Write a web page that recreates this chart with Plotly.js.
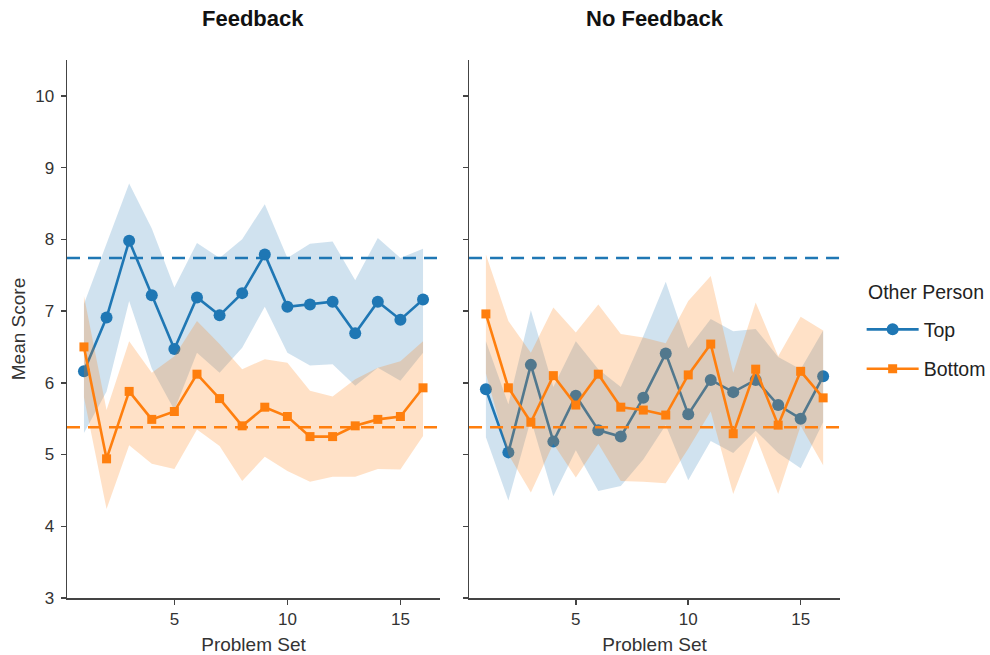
<!DOCTYPE html>
<html>
<head>
<meta charset="utf-8">
<script src="https://cdn.plot.ly/plotly-3.0.1.min.js"></script>
<style>
  html, body { margin: 0; padding: 0; background: #ffffff; }
  #chart { width: 990px; height: 655px; }
</style>
</head>
<body>
<div id="chart"></div>
<script>
// Problem sets on the x axis
const problemSet = [1, 2, 3, 4, 5, 6, 7, 8, 9, 10, 11, 12, 13, 14, 15, 16];

// Feedback condition: mean score and confidence band per problem set
const fbTopMean   = [6.16, 6.91, 7.98, 7.22, 6.47, 7.19, 6.94, 7.25, 7.79, 7.06, 7.09, 7.13, 6.69, 7.13, 6.88, 7.16];
const fbTopUpper  = [7.10, 7.94, 8.78, 8.15, 7.33, 7.95, 7.74, 8.00, 8.49, 7.74, 7.94, 7.97, 7.43, 8.02, 7.74, 7.87];
const fbTopLower  = [5.30, 5.88, 7.14, 6.20, 5.62, 6.42, 6.14, 6.49, 7.06, 6.42, 6.24, 6.26, 5.96, 6.21, 6.03, 6.42];
const fbBotMean   = [6.50, 4.94, 5.88, 5.49, 5.60, 6.12, 5.78, 5.40, 5.66, 5.53, 5.25, 5.25, 5.40, 5.49, 5.53, 5.93];
const fbBotUpper  = [7.21, 5.62, 6.58, 6.14, 6.37, 6.86, 6.54, 6.19, 6.33, 6.28, 5.89, 5.81, 6.05, 6.21, 6.30, 6.58];
const fbBotLower  = [5.80, 4.24, 5.13, 4.87, 4.80, 5.35, 5.12, 4.63, 4.97, 4.77, 4.62, 4.69, 4.69, 4.80, 4.79, 5.26];

// No Feedback condition
const nfTopMean   = [5.91, 5.03, 6.25, 5.18, 5.82, 5.34, 5.25, 5.79, 6.41, 5.56, 6.04, 5.87, 6.04, 5.69, 5.50, 6.09];
const nfTopUpper  = [6.58, 5.70, 7.01, 5.94, 6.58, 6.19, 5.94, 6.65, 7.41, 6.48, 6.89, 6.72, 6.75, 6.36, 6.19, 6.73];
const nfTopLower  = [5.24, 4.36, 5.49, 4.42, 5.06, 4.49, 4.56, 4.93, 5.41, 4.64, 5.19, 5.02, 5.33, 5.02, 4.81, 5.45];
const nfBotMean   = [6.96, 5.93, 5.45, 6.10, 5.69, 6.12, 5.66, 5.62, 5.55, 6.11, 6.54, 5.29, 6.19, 5.41, 6.16, 5.79];
const nfBotUpper  = [7.79, 6.86, 6.42, 7.05, 6.70, 7.09, 6.68, 6.63, 6.55, 7.14, 7.49, 6.14, 7.12, 6.37, 6.92, 6.73];
const nfBotLower  = [6.13, 5.00, 4.47, 5.15, 4.68, 5.15, 4.63, 4.62, 4.60, 5.08, 5.60, 4.45, 5.26, 4.45, 5.40, 4.85];

// Reference levels (dashed lines)
const refTop = 7.74;
const refBottom = 5.38;

// Axis ticks and text
const yTicks = [3, 4, 5, 6, 7, 8, 9, 10];
const xTicks = [5, 10, 15];
const panelTitles = ['Feedback', 'No Feedback'];
const seriesNames = ['Top', 'Bottom'];
const legendTitle = 'Other Person';

const BLUE = '#1f77b4';
const ORANGE = '#ff7f0e';
const BLUE_FILL = 'rgba(31,119,180,0.21)';
const ORANGE_FILL = 'rgba(255,127,14,0.23)';
const FONT = 'Liberation Sans, Arial, Helvetica, sans-serif';

function band(upper, lower, color, xa, ya) {
  return {
    x: problemSet.concat(problemSet.slice().reverse()),
    y: upper.concat(lower.slice().reverse()),
    xaxis: xa, yaxis: ya,
    mode: 'lines', fill: 'toself', fillcolor: color,
    line: { width: 0 }, hoverinfo: 'skip', showlegend: false
  };
}

function meanLine(values, color, symbol, size, name, group, xa, ya, legend) {
  return {
    x: problemSet, y: values,
    xaxis: xa, yaxis: ya,
    mode: 'lines+markers', name: name, legendgroup: group,
    showlegend: legend,
    line: { color: color, width: 2.6 },
    marker: { color: color, symbol: symbol, size: size, line: { width: 0 } },
    hoverinfo: 'skip'
  };
}

const traces = [
  band(fbTopUpper, fbTopLower, BLUE_FILL, 'x', 'y'),
  meanLine(fbTopMean, BLUE, 'circle', 12, seriesNames[0], 'top', 'x', 'y', true),
  band(fbBotUpper, fbBotLower, ORANGE_FILL, 'x', 'y'),
  meanLine(fbBotMean, ORANGE, 'square', 9, seriesNames[1], 'bottom', 'x', 'y', true),

  band(nfTopUpper, nfTopLower, BLUE_FILL, 'x2', 'y2'),
  meanLine(nfTopMean, BLUE, 'circle', 12, seriesNames[0], 'top', 'x2', 'y2', false),
  band(nfBotUpper, nfBotLower, ORANGE_FILL, 'x2', 'y2'),
  meanLine(nfBotMean, ORANGE, 'square', 9, seriesNames[1], 'bottom', 'x2', 'y2', false)
];

const axisLine = {
  showline: true, linecolor: '#444', linewidth: 1.5,
  ticks: 'outside', ticklen: 5, tickwidth: 1.5, tickcolor: '#444',
  showgrid: false, zeroline: false,
  tickfont: { family: FONT, size: 17, color: '#333' }
};

function xAxis(domain, anchor) {
  return Object.assign({}, axisLine, {
    domain: domain, anchor: anchor,
    range: [0.25, 16.75], tickvals: xTicks,
    title: { text: 'Problem Set', font: { family: FONT, size: 19, color: '#333' }, standoff: 10 }
  });
}

function yAxis(anchor, labels) {
  const ax = Object.assign({}, axisLine, {
    anchor: anchor, domain: [0, 1],
    range: [3, 10.5], tickvals: yTicks,
    showticklabels: labels, ticklabelstandoff: 3
  });
  if (labels) {
    ax.title = { text: 'Mean Score', font: { family: FONT, size: 19, color: '#333' }, standoff: 4 };
  }
  return ax;
}

function refLine(value, color, xref, yref) {
  return {
    type: 'line', xref: xref + ' domain', yref: yref,
    x0: 0, x1: 1, y0: value, y1: value,
    line: { color: color, width: 2.6, dash: '13px,8px' },
    layer: 'above'
  };
}

const layout = {
  width: 990, height: 655,
  margin: { l: 67, r: 150, t: 60, b: 57, autoexpand: false },
  paper_bgcolor: '#ffffff', plot_bgcolor: '#ffffff',
  font: { family: FONT, color: '#333' },
  xaxis: xAxis([0, 0.4825], 'y'),
  yaxis: yAxis('x', true),
  xaxis2: xAxis([0.5201, 1], 'y2'),
  yaxis2: yAxis('x2', false),
  shapes: [
    refLine(refTop, BLUE, 'x', 'y'),
    refLine(refBottom, ORANGE, 'x', 'y'),
    refLine(refTop, BLUE, 'x2', 'y2'),
    refLine(refBottom, ORANGE, 'x2', 'y2')
  ],
  annotations: [
    { text: '<b>' + panelTitles[0] + '</b>', xref: 'x domain', yref: 'paper', x: 0.5, y: 1.078,
      xanchor: 'center', yanchor: 'middle', showarrow: false,
      font: { family: FONT, size: 22, color: '#111' } },
    { text: '<b>' + panelTitles[1] + '</b>', xref: 'x2 domain', yref: 'paper', x: 0.5, y: 1.078,
      xanchor: 'center', yanchor: 'middle', showarrow: false,
      font: { family: FONT, size: 22, color: '#111' } },
    { text: legendTitle, xref: 'paper', yref: 'paper', x: 1.034, y: 0.569,
      xanchor: 'left', yanchor: 'middle', showarrow: false,
      font: { family: FONT, size: 19.5, color: '#222' } }
  ],
  legend: {
    x: 1.028, xanchor: 'left', y: 0.535, yanchor: 'top',
    font: { family: FONT, size: 19.5, color: '#222' },
    tracegroupgap: 11, itemwidth: 52,
    bgcolor: 'rgba(0,0,0,0)'
  },
  showlegend: true,
  hovermode: false
};

Plotly.newPlot('chart', traces, layout, { displayModeBar: false, staticPlot: true });
</script>
</body>
</html>
